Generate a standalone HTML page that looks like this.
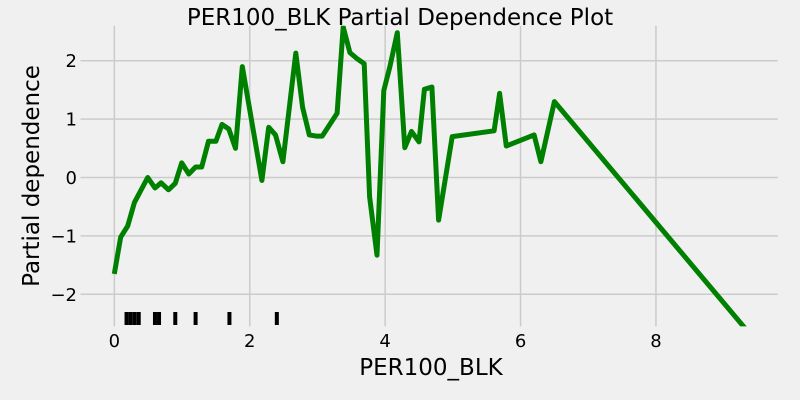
<!DOCTYPE html>
<html><head><meta charset="utf-8"><style>
body{margin:0;background:#f0f0f0;}
svg{display:block;font-family:"DejaVu Sans","Liberation Sans",sans-serif;}
</style></head><body>
<svg id="chart" width="800" height="400">
<rect width="800" height="400" fill="#f0f0f0"/>
<defs><clipPath id="clip"><rect x="80.5" y="25.7" width="697.3" height="300.7"/></clipPath></defs>
<g id="grid"></g>
<g id="marks" clip-path="url(#clip)"></g>
<g id="ticks"></g>
<text x="400" y="25" text-anchor="middle" font-size="23" fill="#000">PER100_BLK Partial Dependence Plot</text>
<text x="431" y="375" text-anchor="middle" font-size="23" fill="#000">PER100_BLK</text>
<text transform="translate(39,176) rotate(-90)" text-anchor="middle" font-size="23" fill="#000">Partial dependence</text>
</svg>
<script>
const xs=[0,0.094,0.197,0.296,0.493,0.60,0.69,0.80,0.90,0.995,1.10,1.20,1.29,1.39,1.50,1.59,1.69,1.79,1.89,2.18,2.28,2.38,2.49,2.68,2.78,2.88,2.98,3.07,3.29,3.38,3.48,3.58,3.69,3.77,3.88,3.98,4.07,4.18,4.29,4.39,4.50,4.58,4.69,4.79,4.99,5.61,5.69,5.79,6.20,6.30,6.50,9.43];
const ys=[-1.65,-1.02,-0.83,-0.43,0.0,-0.18,-0.09,-0.21,-0.10,0.25,0.06,0.18,0.18,0.62,0.62,0.91,0.83,0.50,1.90,-0.05,0.86,0.73,0.27,2.13,1.20,0.73,0.71,0.71,1.10,2.58,2.14,2.04,1.95,-0.33,-1.33,1.49,1.90,2.48,0.51,0.79,0.61,1.51,1.55,-0.73,0.70,0.80,1.44,0.54,0.73,0.27,1.30,-2.74];
const rug=[0.18,0.24,0.30,0.36,0.60,0.66,0.90,1.20,1.70,2.40];
const xTicks=[0,2,4,6,8];
const yTicks=[-2,-1,0,1,2];
const yTickLabels=["\u22122","\u22121","0","1","2"];
const X0=80.5,X1=777.8,Y0=326.4,Y1=25.7,xmin=-0.5,xmax=9.8,ymin=-2.55,ymax=2.6;
const sx=v=>X0+(v-xmin)/(xmax-xmin)*(X1-X0);
const sy=v=>Y0-(v-ymin)/(ymax-ymin)*(Y0-Y1);
const NS="http://www.w3.org/2000/svg";
const grid=document.getElementById('grid'),marks=document.getElementById('marks'),ticks=document.getElementById('ticks');
function mk(t,a,p){const e=document.createElementNS(NS,t);for(const k in a)e.setAttribute(k,a[k]);p.appendChild(e);return e;}
xTicks.forEach(v=>{
 const l=mk('line',{x1:sx(v),x2:sx(v),y1:Y1,y2:Y0,stroke:'#cbcbcb','stroke-width':1.5},grid);
 
 
 const t=mk('text',{x:sx(v),y:347,'text-anchor':'middle','font-size':18,fill:'#000'},ticks);t.textContent=v;
 
 
});
yTicks.forEach((v,i)=>{
 const l=mk('line',{x1:X0,x2:X1,y1:sy(v),y2:sy(v),stroke:'#cbcbcb','stroke-width':1.5},grid);
 
 
 const t=mk('text',{x:77,y:sy(v)+6.5,'text-anchor':'end','font-size':18,fill:'#000'},ticks);t.textContent=yTickLabels[i];
 
 
});
const pts=xs.map((x,i)=>sx(x).toFixed(1)+','+sy(ys[i]).toFixed(1)).join(' ');
const line=mk('polyline',{points:pts,fill:'none',stroke:'#008000','stroke-width':5,'stroke-linejoin':'round'},marks);


rug.forEach(v=>{
 const r=mk('rect',{x:sx(v)-2,y:312,width:4,height:13,fill:'#000'},marks);
 
 
});
</script>
</body></html>
